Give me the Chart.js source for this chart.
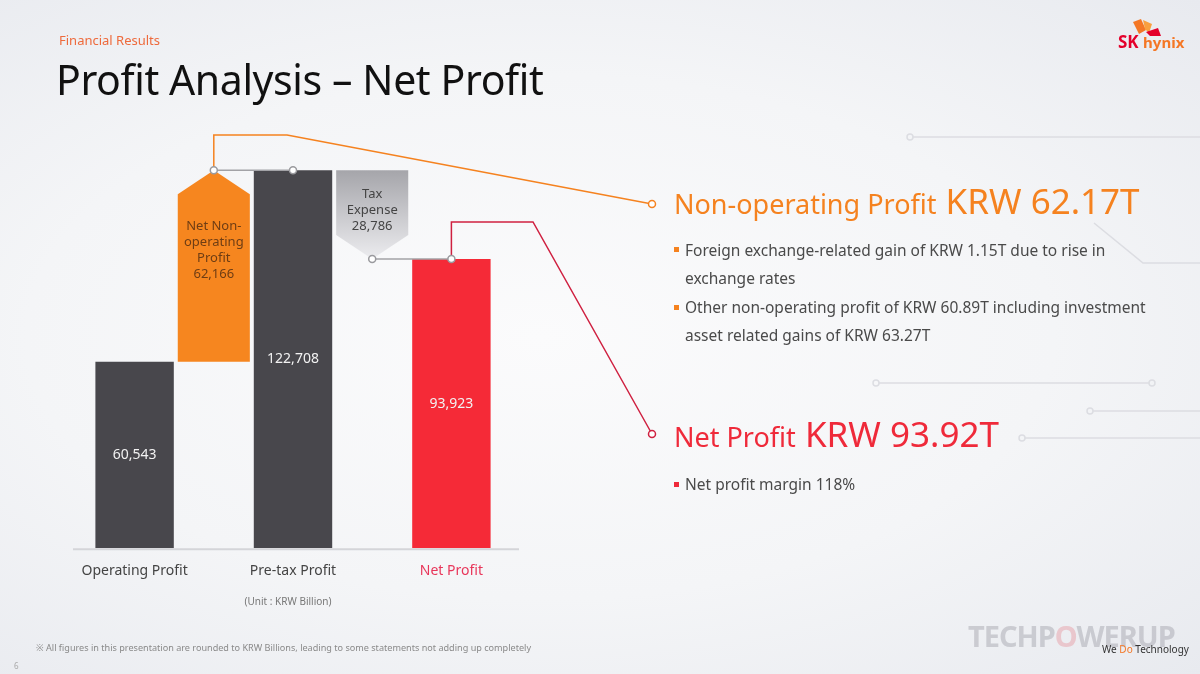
<!DOCTYPE html>
<html>
<head>
    <meta charset="UTF-8">
    <title>Profit Analysis - Net Profit</title>
    <script src="https://cdn.jsdelivr.net/npm/chart.js"></script>
    <style>
        body {
            margin: 0;
            width: 1200px;
            height: 674px;
            overflow: hidden;
            position: relative;
            font-family: "Noto Sans", sans-serif;
            background: radial-gradient(ellipse at 45% 50%, #fbfbfc 0%, #f4f5f7 55%, #e8eaef 100%);
        }
        .abs {
            position: absolute;
            white-space: nowrap;
        }
        #chart {
            position: absolute;
            left: 0;
            top: 0;
        }
        .kicker { left: 59px; top: 31px; font-size: 13px; line-height: 18px; color: #ee6a3c; }
        h1 { margin: 0; left: 56px; top: 54px; font-size: 41px; line-height: 50px; font-weight: 400; color: #111; letter-spacing: -0.4px; }
        .head { left: 674px; font-size: 35px; line-height: 40px; }
        .head small { font-size: 27px; }
        .orange { color: #f5821f; }
        .red { color: #ef2a3a; }
        .bullet { left: 685px; font-size: 15.5px; line-height: 20px; color: #4a4a4a; }
        .sq { position: absolute; width: 5px; height: 5px; }
        .unit { left: 288px; top: 594px; transform: translateX(-50%); font-size: 10px; color: #777; }
        .note { left: 36px; top: 641px; font-size: 9.1px; line-height: 14px; color: #8a8a8a; }
        .page { left: 14px; top: 660px; font-size: 8px; color: #aaa; }
        .wm { left: 968px; top: 618px; font-size: 29px; line-height: 36px; font-weight: 700; color: rgba(160,160,168,0.45); letter-spacing: -1px; }
        .wm2 { left: 1102px; top: 642px; font-size: 10px; line-height: 14px; color: #333; }
    </style>
</head>
<body>
    <svg class="abs" style="left:0;top:0" width="1200" height="674">
        <g stroke="#dcdde2" stroke-width="1.5" fill="none">
            <line x1="913" y1="137" x2="1200" y2="137"/>
            <circle cx="910" cy="137" r="3"/>
            <polyline points="1094,223 1143,263 1200,263"/>
            <line x1="879" y1="383" x2="1149" y2="383"/>
            <circle cx="876" cy="383" r="3"/>
            <circle cx="1152" cy="383" r="3"/>
            <line x1="1093" y1="411" x2="1200" y2="411"/>
            <circle cx="1090" cy="411" r="3"/>
            <line x1="1025" y1="438" x2="1200" y2="438"/>
            <circle cx="1022" cy="438" r="3"/>
        </g>
        <!-- logo mark -->
        <g>
            <polygon points="1133,22 1141,19 1146,30 1139,34" fill="#f47725"/>
            <polygon points="1143,20 1152,24 1149,33 1145,29" fill="#f9a03f"/>
            <polygon points="1146,32 1158,28 1161,36 1150,36" fill="#e4002b"/>
        </g>
    </svg>

    <canvas id="chart" width="1200" height="674"></canvas>

    <div class="abs kicker">Financial Results</div>
    <h1 class="abs">Profit Analysis – Net Profit</h1>

    <div class="abs" style="left:1118px;top:31px;font-size:17px;font-weight:700;color:#e4002b;line-height:22px;">SK <span style="color:#f47725;font-size:15px;">hynix</span></div>

    <div class="abs head orange" style="top:181px;"><small>Non-operating Profit</small> KRW 62.17T</div>
    <div class="sq" style="left:674px;top:247px;background:#f5821f;"></div>
    <div class="abs bullet" style="top:240px;">Foreign exchange-related gain of KRW 1.15T due to rise in</div>
    <div class="abs bullet" style="top:268px;">exchange rates</div>
    <div class="sq" style="left:674px;top:305px;background:#f5821f;"></div>
    <div class="abs bullet" style="top:297px;">Other non-operating profit of KRW 60.89T including investment</div>
    <div class="abs bullet" style="top:325px;">asset related gains of KRW 63.27T</div>

    <div class="abs head red" style="top:414px;"><small>Net Profit</small> KRW 93.92T</div>
    <div class="sq" style="left:674px;top:482px;background:#ef2a3a;"></div>
    <div class="abs bullet" style="top:474px;">Net profit margin 118%</div>

    <div class="abs unit">(Unit : KRW Billion)</div>
    <div class="abs note">※ All figures in this presentation are rounded to KRW Billions, leading to some statements not adding up completely</div>
    <div class="abs page">6</div>
    <div class="abs wm">TECHP<span style="color:rgba(230,150,160,0.45)">O</span>WERUP</div>
    <div class="abs wm2">We <span style="color:#f47725">Do</span> Technology</div>

    <script>
        // waterfall steps, KRW billion
        const categories = ['Operating Profit', 'Net Non-operating Profit', 'Pre-tax Profit', 'Tax Expense', 'Net Profit'];
        const axisLabels = ['Operating Profit', '', 'Pre-tax Profit', '', 'Net Profit'];
        const totalValues = [60543, null, 122708, null, 93923];
        const stepRanges = [null, [60543, 122708], null, [93923, 122708], null];
        const stepValues = [null, 62166, null, 28786, null];
        const stepText = [null, ['Net Non-', 'operating', 'Profit'], null, ['Tax', 'Expense'], null];

        const DARK = '#48474c';
        const RED = '#f52a37';
        const ORANGE = '#f6861f';
        const tickColors = ['#444', '#444', '#444', '#444', '#e8365a'];

        const fmt = v => v.toLocaleString('en-US');

        function dot(ctx, x, y, stroke) {
            ctx.beginPath();
            ctx.arc(x, y, 3.5, 0, Math.PI * 2);
            ctx.fillStyle = '#fff';
            ctx.fill();
            ctx.lineWidth = 1.5;
            ctx.strokeStyle = stroke;
            ctx.stroke();
        }

        const waterfallPlugin = {
            id: 'waterfall',
            afterDatasetsDraw(chart) {
                const ctx = chart.ctx;
                const area = chart.chartArea;
                const y = chart.scales.y;
                const mainBars = chart.getDatasetMeta(0).data;
                const steps = chart.getDatasetMeta(1).data;
                const tip = 24;

                ctx.save();

                // baseline
                const y0 = y.getPixelForValue(0);
                ctx.strokeStyle = '#d4d5d9';
                ctx.lineWidth = 2;
                ctx.beginPath();
                ctx.moveTo(area.left - 22, y0 + 1);
                ctx.lineTo(area.right + 28, y0 + 1);
                ctx.stroke();

                // step shapes
                steps.forEach((el, i) => {
                    if (!stepRanges[i]) return;
                    const top = Math.min(el.y, el.base);
                    const bot = Math.max(el.y, el.base);
                    const l = el.x - el.width / 2;
                    const r = el.x + el.width / 2;
                    ctx.beginPath();
                    if (i === 1) {
                        ctx.moveTo(l, bot);
                        ctx.lineTo(l, top + tip);
                        ctx.lineTo(el.x, top);
                        ctx.lineTo(r, top + tip);
                        ctx.lineTo(r, bot);
                        ctx.fillStyle = ORANGE;
                    } else {
                        ctx.moveTo(l, top);
                        ctx.lineTo(r, top);
                        ctx.lineTo(r, bot - tip);
                        ctx.lineTo(el.x, bot);
                        ctx.lineTo(l, bot - tip);
                        const g = ctx.createLinearGradient(0, top, 0, bot);
                        g.addColorStop(0, '#a5a5aa');
                        g.addColorStop(1, '#ececef');
                        ctx.fillStyle = g;
                    }
                    ctx.closePath();
                    ctx.fill();

                    // step labels
                    const lines = stepText[i].concat([fmt(stepValues[i])]);
                    ctx.font = '13px "Noto Sans"';
                    ctx.textAlign = 'center';
                    ctx.textBaseline = 'middle';
                    ctx.fillStyle = i === 1 ? '#6e3d14' : '#444';
                    const startY = i === 1 ? top + 56 : top + 24;
                    lines.forEach((t, k) => ctx.fillText(t, el.x, startY + k * 16));
                });

                // totals labels
                ctx.font = '14px "Noto Sans"';
                ctx.fillStyle = '#f2f2f2';
                mainBars.forEach((el, i) => {
                    if (totalValues[i] == null) return;
                    ctx.fillText(fmt(totalValues[i]), el.x, (el.y + el.base) / 2);
                });

                const op = steps[1];
                const pre = mainBars[2];
                const tax = steps[3];
                const net = mainBars[4];
                const yPre = y.getPixelForValue(stepRanges[1][1]);
                const yNet = y.getPixelForValue(stepRanges[3][0]);

                // callout lines to the text panel
                ctx.lineWidth = 1.5;
                ctx.strokeStyle = '#f5821f';
                ctx.beginPath();
                ctx.moveTo(op.x, yPre);
                ctx.lineTo(op.x, 135);
                ctx.lineTo(287, 135);
                ctx.lineTo(652, 204);
                ctx.stroke();
                ctx.strokeStyle = '#cf2040';
                ctx.beginPath();
                ctx.moveTo(net.x, yNet);
                ctx.lineTo(net.x, 222);
                ctx.lineTo(533, 222);
                ctx.lineTo(652, 434);
                ctx.stroke();

                // gray connectors
                ctx.strokeStyle = '#a2a2a6';
                ctx.beginPath();
                ctx.moveTo(op.x, yPre);
                ctx.lineTo(pre.x, yPre);
                ctx.moveTo(tax.x, yNet);
                ctx.lineTo(net.x, yNet);
                ctx.stroke();

                dot(ctx, op.x, yPre, '#9a9a9e');
                dot(ctx, pre.x, yPre, '#9a9a9e');
                dot(ctx, tax.x, yNet, '#9a9a9e');
                dot(ctx, net.x, yNet, '#9a9a9e');
                dot(ctx, 652, 204, '#f5821f');
                dot(ctx, 652, 434, '#cf2040');

                ctx.restore();
            }
        };

        new Chart(document.getElementById('chart'), {
            type: 'bar',
            data: {
                labels: categories,
                datasets: [
                    {
                        data: totalValues,
                        backgroundColor: [DARK, DARK, DARK, DARK, RED],
                        barPercentage: 0.99,
                        categoryPercentage: 1,
                        grouped: false
                    },
                    {
                        data: stepRanges,
                        backgroundColor: 'rgba(0,0,0,0)',
                        barPercentage: 0.91,
                        categoryPercentage: 1,
                        grouped: false
                    }
                ]
            },
            options: {
                responsive: false,
                animation: false,
                layout: {
                    padding: { left: 95, right: 709, top: 117, bottom: 81 }
                },
                plugins: {
                    legend: { display: false },
                    tooltip: { enabled: false }
                },
                scales: {
                    x: {
                        grid: { display: false, drawTicks: false },
                        border: { display: false },
                        ticks: {
                            callback: (v, i) => axisLabels[i],
                            color: c => tickColors[c.index],
                            font: { family: 'Noto Sans', size: 14 },
                            padding: 14,
                            maxRotation: 0,
                            autoSkip: false
                        }
                    },
                    y: {
                        display: false,
                        min: 0,
                        max: 140000
                    }
                }
            },
            plugins: [waterfallPlugin]
        });
    </script>
</body>
</html>
